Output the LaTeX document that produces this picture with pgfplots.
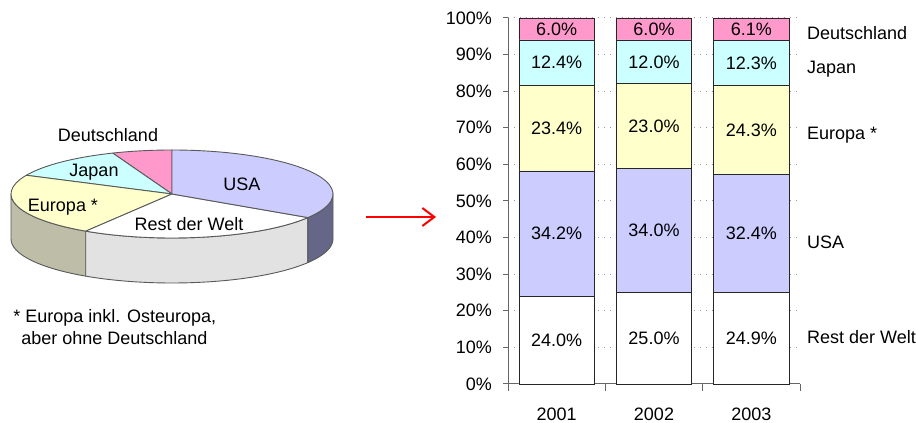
\documentclass[border=0pt]{standalone}
\usepackage{pgfplots}
\pgfplotsset{compat=1.18}
\usepackage{pgfplotstable}
\usepackage{fontspec}
\setmainfont{Liberation Sans}
\usetikzlibrary{arrows.meta}

\definecolor{cDE}{HTML}{FF99CC}
\definecolor{cJP}{HTML}{CCFFFF}
\definecolor{cEU}{HTML}{FFFFCC}
\definecolor{cUS}{HTML}{CCCCFF}
\definecolor{cRW}{HTML}{FFFFFF}
\definecolor{sEU}{HTML}{BEBEA8}
\definecolor{sRW}{HTML}{E2E2E2}
\definecolor{sUS}{HTML}{666688}

\pgfplotstableread{
x rw us eu jp de
1 24.0 34.2 23.4 12.4 6.0
2 25.0 34.0 23.0 12.0 6.0
3 24.9 32.4 24.3 12.3 6.1
}\bardata

% pie shares (%)
\def\pDE{6.0}\def\pJP{12.0}\def\pEU{23.0}\def\pRW{25.0}\def\pUS{34.0}

\begin{document}
\begin{tikzpicture}[font=\fontsize{9}{11}\selectfont]
\path[use as bounding box] (0,0) rectangle (458pt,211.5pt);
\pgfmathsetmacro\aO{90}
\pgfmathsetmacro\aA{\aO+3.6*\pDE}
\pgfmathsetmacro\aB{\aA+3.6*\pJP}
\pgfmathsetmacro\aC{\aB+3.6*\pEU}
\pgfmathsetmacro\aD{\aC+3.6*\pRW}
\pgfmathsetmacro\aE{\aD+3.6*\pUS}
\tikzset{pe/.style={draw=black!65, line width=0.45pt, line join=round},
  el/.style={x radius=80.5pt, y radius=22pt}}
\begin{scope}[shift={(86pt,114.5pt)}]
% side faces
\path[pe, fill=sEU] (180:80.5pt and 22pt) arc[el, start angle=180,end angle=\aC] -- ++(0,-22.5pt) arc[el, start angle=\aC,end angle=180] -- cycle;
\path[pe, fill=sRW] (\aC:80.5pt and 22pt) arc[el, start angle=\aC,end angle=\aD] -- ++(0,-22.5pt) arc[el, start angle=\aD,end angle=\aC] -- cycle;
\path[pe, fill=sUS] (\aD:80.5pt and 22pt) arc[el, start angle=\aD,end angle=360] -- ++(0,-22.5pt) arc[el, start angle=360,end angle=\aD] -- cycle;
% top wedges
\path[pe, fill=cDE] (0,0) -- (\aO:80.5pt and 22pt) arc[el, start angle=\aO,end angle=\aA] -- cycle;
\path[pe, fill=cJP] (0,0) -- (\aA:80.5pt and 22pt) arc[el, start angle=\aA,end angle=\aB] -- cycle;
\path[pe, fill=cEU] (0,0) -- (\aB:80.5pt and 22pt) arc[el, start angle=\aB,end angle=\aC] -- cycle;
\path[pe, fill=cRW] (0,0) -- (\aC:80.5pt and 22pt) arc[el, start angle=\aC,end angle=\aD] -- cycle;
\path[pe, fill=cUS] (0,0) -- (\aD:80.5pt and 22pt) arc[el, start angle=\aD,end angle=\aE] -- cycle;
\end{scope}
% pie labels
\node[anchor=base, inner sep=0] at (54pt,140.7pt) {Deutschland};
\node[anchor=base, inner sep=0] at (47pt,123.2pt) {Japan};
\node[anchor=base, inner sep=0] at (31.5pt,105.7pt) {Europa *};
\node[anchor=base, inner sep=0] at (121pt,116pt) {USA};
\node[anchor=base, inner sep=0] at (94.5pt,96.2pt) {Rest der Welt};
% footnote
\node[anchor=base west, inner sep=0] at (6.5pt,50pt) {* Europa inkl. Osteuropa,};
\node[anchor=base west, inner sep=0] at (10.5pt,39pt) {aber ohne Deutschland};
% arrow
\draw[red, line width=1pt, -{Straight Barb[length=6pt,width=9pt]}] (183pt,103pt) -- (218pt,103pt);

\begin{axis}[
  at={(254pt,19.5pt)}, anchor=south west,
  scale only axis, width=146pt, height=183pt,
  xmin=0.5, xmax=3.5, ymin=0, ymax=100,
  ybar stacked, bar width=37.75pt,
  axis lines*=left,
  axis line style={black!60, line width=0.5pt},
  xtick={1,2,3}, xticklabels={2001,2002,2003},
  minor xtick={0.5,1.5,2.5,3.5},
  ytick={0,10,...,100},
  yticklabel={\pgfmathprintnumber{\tick}\%},
  tick align=outside,
  major tick length=2.5pt, minor tick length=3.5pt,
  every tick/.append style={black!60, line width=0.5pt},
  every major x tick/.append style={draw=none},
  ymajorgrids,
  major grid style={black!40, line width=0.5pt, dash pattern=on 0.5pt off 2.5pt},
  /pgf/number format/assume math mode=true,
  xticklabel style={yshift=-6pt},
  yticklabel style={xshift=-2pt},
  nodes near coords={\pgfmathprintnumber[fixed,fixed zerofill,precision=1]{\val}\%},
  nodes near coords align=center,
  every node near coord/.append style={anchor=center, black},
  clip=false,
]
\addplot[fill=cRW, draw=black!85, visualization depends on={\thisrow{rw}\as\val}] table[x=x,y=rw]{\bardata};
\addplot[fill=cUS, draw=black!85, visualization depends on={\thisrow{us}\as\val}] table[x=x,y=us]{\bardata};
\addplot[fill=cEU, draw=black!85, visualization depends on={\thisrow{eu}\as\val}] table[x=x,y=eu]{\bardata};
\addplot[fill=cJP, draw=black!85, visualization depends on={\thisrow{jp}\as\val}] table[x=x,y=jp]{\bardata};
\addplot[fill=cDE, draw=black!85, visualization depends on={\thisrow{de}\as\val}] table[x=x,y=de]{\bardata};
\node[anchor=base west] at (axis cs:3.5,94.26) {Deutschland};
\node[anchor=base west] at (axis cs:3.5,84.97) {Japan};
\node[anchor=base west] at (axis cs:3.5,66.67) {Europa *};
\node[anchor=base west] at (axis cs:3.5,36.89) {USA};
\node[anchor=base west] at (axis cs:3.5,10.93) {Rest der Welt};
\end{axis}
\end{tikzpicture}
\end{document}
